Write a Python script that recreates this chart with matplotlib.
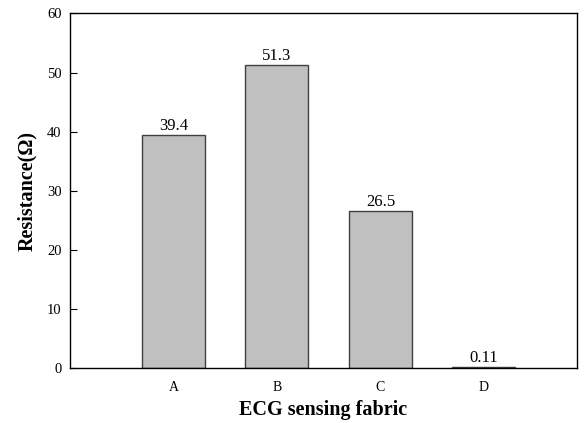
import matplotlib.pyplot as plt

# Data
fabrics = ['A', 'B', 'C', 'D']
resistance = [39.4, 51.3, 26.5, 0.11]
value_labels = ['39.4', '51.3', '26.5', '0.11']

plt.rcParams['font.family'] = ['Liberation Serif', 'DejaVu Serif']

fig = plt.figure(figsize=(5.86, 4.23), dpi=100)
ax = fig.add_axes([70 / 586, 1 - 368 / 423, 507 / 586, 354.5 / 423])

x = list(range(len(fabrics)))
bars = ax.bar(x, resistance, width=0.61, color='#c0c0c0',
              edgecolor='#404040', linewidth=1.0)

for xi, v, lab in zip(x, resistance, value_labels):
    ax.text(xi, v + 0.2, lab, ha='center', va='bottom', fontsize=12)

ax.set_xlim(-1.0, 3.9)
ax.set_ylim(0, 60)
ax.set_xticks(x)
ax.set_xticklabels(fabrics, fontsize=10)
ax.set_yticks(range(0, 61, 10))
ax.tick_params(axis='y', direction='in', length=5, labelsize=10.5, pad=6)
ax.tick_params(axis='x', length=0, pad=9)

for s in ax.spines.values():
    s.set_linewidth(1.0)

ax.set_xlabel('ECG sensing fabric', fontsize=14.5, fontweight='bold', labelpad=5)
ax.set_ylabel('Resistance(Ω)', fontsize=14.5, fontweight='bold', labelpad=7)

fig.savefig('out.png', dpi=100)
